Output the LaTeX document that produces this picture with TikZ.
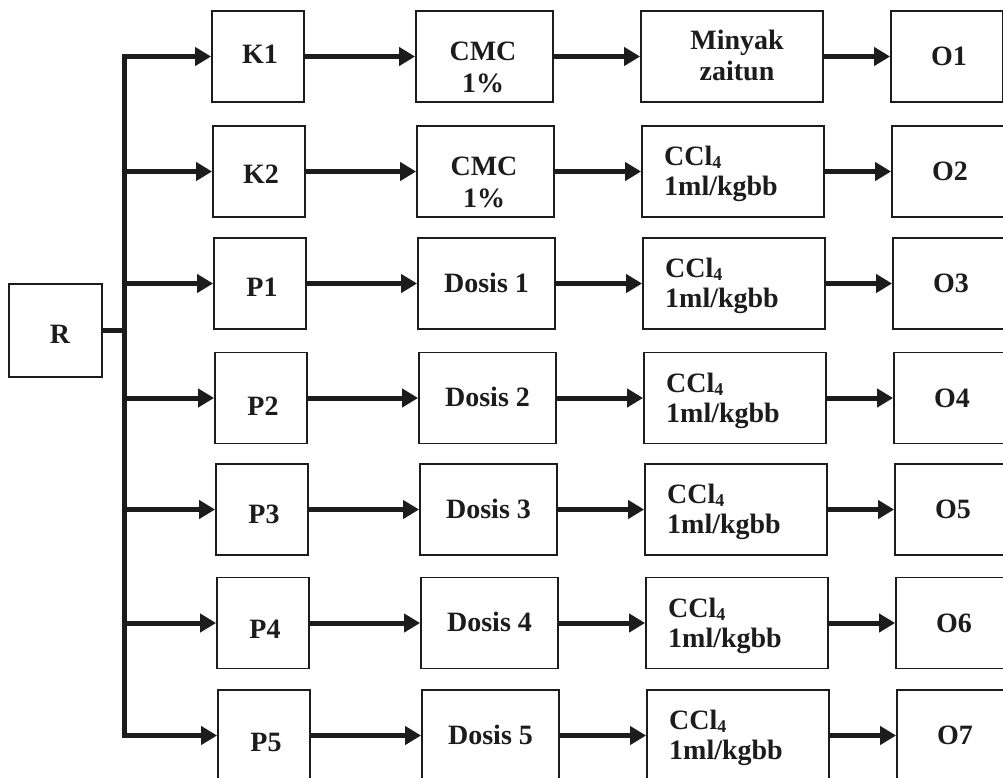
\documentclass[tikz,border=0pt]{standalone}
\usepackage{fontspec}
\setmainfont{Liberation Serif}
\usetikzlibrary{arrows.meta}
\definecolor{ink}{HTML}{1C1C1C}
\begin{document}
\begin{tikzpicture}[x=1pt, y=-1pt,
  box/.style={draw=ink, line width=1.8pt, inner sep=0pt, minimum height=91pt},
  lbl/.style={font=\fontsize{28}{32}\selectfont\bfseries, text=ink, inner sep=0pt},
  flow/.style={draw=ink, line width=5pt, -{Triangle[length=16pt, width=18pt]}},
  trunk/.style={draw=ink, line width=5pt, line cap=rect}]
\useasboundingbox[fill=white] (0,0) rectangle (1003,777);

% source group
\node[box, minimum width=93pt, minimum height=93pt] (R) at (55.5,330.5) {};
\node[lbl, anchor=base] (tR) at (60,343) {R};

% distribution line
\coordinate (trunktop) at (124,56.5);
\coordinate (trunkbot) at (124,735.5);
\coordinate (hub) at (124,330.5);
\draw[trunk] (trunktop) -- (trunkbot);
\draw[trunk, line cap=butt] (R.east) -- (hub);

% one row per group: group -> treatment -> induction -> observation
\foreach \r/\yc/\tb/\ta/\td in {0/56.5/6.5/K1/O1, 1/171.5/11.5/K2/O2,
    2/283.5/12.5/P1/O3, 3/398/17/P2/O4, 4/509.5/14/P3/O5,
    5/623/15/P4/O6, 6/735.5/15.5/P5/O7} {
  \node[box, minimum width=92pt]  (a\r) at (258+\r, \yc) {};
  \node[box, minimum width=137pt] (b\r) at (484.5+\r, \yc) {};
  \node[box, minimum width=182pt] (c\r) at (732+\r, \yc) {};
  \node[box, minimum width=112pt] (d\r) at (947+\r, \yc) {};
  \node[lbl, anchor=base] (ta\r) at (260+\r, \yc+\tb) {\ta};
  \node[lbl, anchor=base] (td\r) at (949+\r, \yc+9) {\td};
  \draw[flow] (a\r.west -| trunktop) -- (a\r.west);
  \draw[flow] (a\r.east) -- (b\r.west);
  \draw[flow] (b\r.east) -- (c\r.west);
  \draw[flow] (c\r.east) -- (d\r.west);
}

% treatments (base anchor = baseline of the last line)
\node[lbl, anchor=base, align=center] (tb0) at (483, 92) {CMC\\1\%};
\node[lbl, anchor=base, align=center] (tb1) at (484, 207) {CMC\\1\%};
\foreach \r/\yc/\n in {2/283.5/1, 3/398/2, 4/509.5/3, 5/623/4, 6/735.5/5}
  \node[lbl, anchor=base] (tb\r) at (484.5+\r, \yc+8.5) {Dosis \n};

% induction
\node[lbl, anchor=base, align=center] (tc0) at (737, 80) {Minyak\\[-1pt]zaitun};
\foreach \r/\yc in {1/171.5, 2/283.5, 3/398, 4/509.5, 5/623, 6/735.5}
  \node[lbl, anchor=base west, align=left] (tc\r) at (663+\r, \yc+24)
    {CCl{\fontsize{18}{18}\selectfont\raisebox{-3pt}{4}}\\[-2pt]1ml/kgbb};
\end{tikzpicture}
\end{document}
